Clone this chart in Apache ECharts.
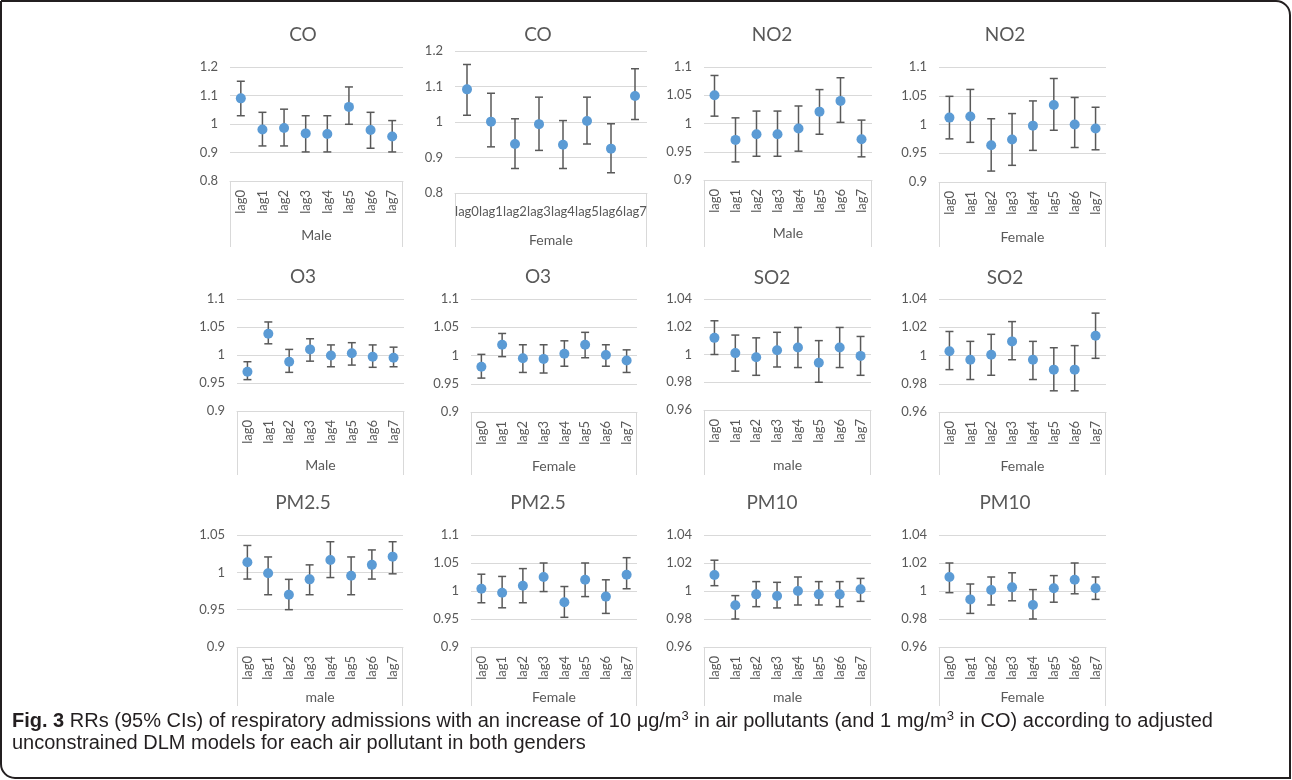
<!DOCTYPE html>
<html>
<head>
<meta charset="utf-8">
<style>
  html, body { margin: 0; padding: 0; background: #fff; }
  #chart { width: 1292px; height: 780px; }
</style>
<script src="https://cdn.jsdelivr.net/npm/echarts@6.0.0/dist/echarts.min.js"></script>
</head>
<body>
<div id="chart"></div>
<script>
// lags on the x axis
var lags = ['lag0', 'lag1', 'lag2', 'lag3', 'lag4', 'lag5', 'lag6', 'lag7']

// RR, lower and upper 95% CI per pollutant / gender
var coMaleRR = [1.09, 0.981, 0.986, 0.967, 0.965, 1.06, 0.979, 0.956]
var coMaleLo = [1.029, 0.923, 0.923, 0.902, 0.902, 0.999, 0.915, 0.902]
var coMaleHi = [1.15, 1.041, 1.052, 1.029, 1.029, 1.13, 1.041, 1.012]

var coFemaleRR = [1.092, 1.001, 0.938, 0.994, 0.936, 1.003, 0.925, 1.073]
var coFemaleLo = [1.019, 0.93, 0.869, 0.92, 0.869, 0.938, 0.857, 1.007]
var coFemaleHi = [1.162, 1.081, 1.009, 1.07, 1.004, 1.07, 0.995, 1.15]

var no2MaleRR = [1.05, 0.971, 0.981, 0.981, 0.991, 1.021, 1.04, 0.972]
var no2MaleLo = [1.013, 0.932, 0.942, 0.942, 0.951, 0.981, 1.002, 0.941]
var no2MaleHi = [1.085, 1.01, 1.022, 1.022, 1.031, 1.06, 1.081, 1.006]

var no2FemaleRR = [1.012, 1.014, 0.964, 0.974, 0.998, 1.034, 1.0, 0.993]
var no2FemaleLo = [0.975, 0.969, 0.919, 0.929, 0.955, 0.99, 0.96, 0.956]
var no2FemaleHi = [1.049, 1.061, 1.01, 1.019, 1.041, 1.08, 1.047, 1.03]

var o3MaleRR = [0.97, 1.038, 0.988, 1.01, 0.999, 1.003, 0.997, 0.995]
var o3MaleLo = [0.956, 1.02, 0.969, 0.989, 0.979, 0.982, 0.978, 0.979]
var o3MaleHi = [0.988, 1.059, 1.01, 1.029, 1.018, 1.022, 1.018, 1.014]

var o3FemaleRR = [0.98, 1.019, 0.995, 0.994, 1.003, 1.019, 1.001, 0.991]
var o3FemaleLo = [0.96, 0.998, 0.97, 0.969, 0.981, 0.996, 0.981, 0.97]
var o3FemaleHi = [1.002, 1.039, 1.019, 1.019, 1.026, 1.041, 1.019, 1.01]

var so2MaleRR = [1.012, 1.001, 0.998, 1.003, 1.005, 0.994, 1.005, 0.999]
var so2MaleLo = [1.0, 0.988, 0.985, 0.991, 0.9906, 0.98, 0.9906, 0.985]
var so2MaleHi = [1.0243, 1.014, 1.012, 1.016, 1.0195, 1.01, 1.0195, 1.013]

var so2FemaleRR = [1.003, 0.997, 1.0005, 1.01, 0.997, 0.99, 0.99, 1.014]
var so2FemaleLo = [0.99, 0.983, 0.986, 0.997, 0.983, 0.975, 0.975, 0.998]
var so2FemaleHi = [1.017, 1.01, 1.015, 1.024, 1.01, 1.0055, 1.007, 1.03]

var pm25MaleRR = [1.0135, 0.9987, 0.97, 0.9906, 1.0166, 0.9955, 1.01, 1.021]
var pm25MaleLo = [0.991, 0.97, 0.95, 0.97, 0.993, 0.97, 0.991, 0.998]
var pm25MaleHi = [1.036, 1.0206, 0.9906, 1.01, 1.041, 1.0206, 1.03, 1.041]

var pm25FemaleRR = [1.004, 0.997, 1.0095, 1.025, 0.98, 1.02, 0.99, 1.029]
var pm25FemaleLo = [0.979, 0.97, 0.979, 0.999, 0.953, 0.99, 0.96, 1.004]
var pm25FemaleHi = [1.03, 1.026, 1.04, 1.05, 1.008, 1.05, 1.02, 1.0595]

var pm10MaleRR = [1.0114, 0.9898, 0.9976, 0.9964, 1.0, 0.9976, 0.9976, 1.0012]
var pm10MaleLo = [1.0038, 0.98, 0.9888, 0.9879, 0.99, 0.99, 0.9888, 0.9926]
var pm10MaleHi = [1.022, 0.9967, 1.0067, 1.0062, 1.01, 1.0067, 1.0067, 1.009]

var pm10FemaleRR = [1.01, 0.994, 1.0007, 1.0026, 0.99, 1.002, 1.008, 1.002]
var pm10FemaleLo = [0.9988, 0.984, 0.99, 0.993, 0.98, 0.992, 0.998, 0.994]
var pm10FemaleHi = [1.02, 1.005, 1.01, 1.013, 1.001, 1.011, 1.02, 1.01]

// layout of the 12 small panels (grid = plot area in px)
var panels = [
  { title: 'CO', group: 'Male', rr: coMaleRR, lo: coMaleLo, hi: coMaleHi, min: 0.8, max: 1.2, step: 0.1, grid: [230, 67, 173, 114], rot: 90, gap: 47, boxBottom: 247, tx: 303, ty: 35 },
  { title: 'CO', group: 'Female', rr: coFemaleRR, lo: coFemaleLo, hi: coFemaleHi, min: 0.8, max: 1.2, step: 0.1, grid: [455, 51, 192, 142], rot: 0, gap: 40, boxBottom: 247, tx: 538, ty: 35 },
  { title: 'NO2', group: 'Male', rr: no2MaleRR, lo: no2MaleLo, hi: no2MaleHi, min: 0.9, max: 1.1, step: 0.05, grid: [704, 67, 168, 113], rot: 90, gap: 46, boxBottom: 247, tx: 772, ty: 35 },
  { title: 'NO2', group: 'Female', rr: no2FemaleRR, lo: no2FemaleLo, hi: no2FemaleHi, min: 0.9, max: 1.1, step: 0.05, grid: [939, 67, 167, 115], rot: 90, gap: 48, boxBottom: 247, tx: 1005, ty: 35 },

  { title: 'O3', group: 'Male', rr: o3MaleRR, lo: o3MaleLo, hi: o3MaleHi, min: 0.9, max: 1.1, step: 0.05, grid: [237, 299, 167, 112], rot: 90, gap: 47, boxBottom: 475, tx: 303, ty: 277 },
  { title: 'O3', group: 'Female', rr: o3FemaleRR, lo: o3FemaleLo, hi: o3FemaleHi, min: 0.9, max: 1.1, step: 0.05, grid: [471, 299, 166, 113], rot: 90, gap: 47, boxBottom: 475, tx: 538, ty: 277 },
  { title: 'SO2', group: 'male', rr: so2MaleRR, lo: so2MaleLo, hi: so2MaleHi, min: 0.96, max: 1.04, step: 0.02, grid: [704, 299, 167, 111], rot: 90, gap: 48, boxBottom: 475, tx: 772, ty: 278 },
  { title: 'SO2', group: 'Female', rr: so2FemaleRR, lo: so2FemaleLo, hi: so2FemaleHi, min: 0.96, max: 1.04, step: 0.02, grid: [939, 299, 167, 113], rot: 90, gap: 47, boxBottom: 475, tx: 1005, ty: 278 },

  { title: 'PM2.5', group: 'male', rr: pm25MaleRR, lo: pm25MaleLo, hi: pm25MaleHi, min: 0.9, max: 1.05, step: 0.05, grid: [237, 535, 166, 112], rot: 90, gap: 43, boxBottom: 706, tx: 303, ty: 503 },
  { title: 'PM2.5', group: 'Female', rr: pm25FemaleRR, lo: pm25FemaleLo, hi: pm25FemaleHi, min: 0.9, max: 1.1, step: 0.05, grid: [471, 535, 166, 112], rot: 90, gap: 43, boxBottom: 706, tx: 538, ty: 503 },
  { title: 'PM10', group: 'male', rr: pm10MaleRR, lo: pm10MaleLo, hi: pm10MaleHi, min: 0.96, max: 1.04, step: 0.02, grid: [704, 535, 167, 112], rot: 90, gap: 43, boxBottom: 706, tx: 772, ty: 503 },
  { title: 'PM10', group: 'Female', rr: pm10FemaleRR, lo: pm10FemaleLo, hi: pm10FemaleHi, min: 0.96, max: 1.04, step: 0.02, grid: [939, 535, 167, 112], rot: 90, gap: 43, boxBottom: 706, tx: 1005, ty: 503 },
]

var FONT = 'Lato'
var TEXT = '#595959'
var LINE = '#d9d9d9'

function errorBar(params, api) {
  var x = api.value(0)
  var low = api.coord([x, api.value(1)])
  var high = api.coord([x, api.value(2)])
  var hw = 4
  var style = { stroke: '#595959', lineWidth: 1.5 }
  return {
    type: 'group',
    children: [
      { type: 'line', shape: { x1: low[0], y1: low[1], x2: high[0], y2: high[1] }, style: style },
      { type: 'line', shape: { x1: high[0] - hw, y1: high[1], x2: high[0] + hw, y2: high[1] }, style: style },
      { type: 'line', shape: { x1: low[0] - hw, y1: low[1], x2: low[0] + hw, y2: low[1] }, style: style },
    ],
  }
}

var grids = [], xAxes = [], yAxes = [], series = [], graphics = []

panels.forEach(function (p, i) {
  var g = p.grid
  grids.push({ left: g[0], top: g[1], width: g[2], height: g[3], outerBoundsMode: 'none' })
  xAxes.push({
    type: 'category',
    gridIndex: i,
    data: lags,
    name: p.group,
    nameLocation: 'middle',
    nameGap: p.gap,
    nameMoveOverlap: false,
    nameTextStyle: { color: TEXT, fontFamily: FONT, fontSize: 14 },
    axisLine: { show: true, lineStyle: { color: LINE, width: 1 } },
    axisTick: { show: false },
    axisLabel: { interval: 0, rotate: p.rot, margin: p.rot ? 9 : 12, hideOverlap: false, color: TEXT, fontFamily: FONT, fontSize: 13 },
    splitLine: { show: false },
  })
  yAxes.push({
    type: 'value',
    gridIndex: i,
    min: p.min,
    max: p.max,
    interval: p.step,
    axisLine: { show: false },
    axisTick: { show: false },
    axisLabel: {
      margin: 12,
      color: TEXT,
      fontFamily: FONT,
      fontSize: 13,
      formatter: function (v) { return String(+v.toFixed(3)) },
    },
    splitLine: { lineStyle: { color: LINE, width: 1 } },
  })
  series.push({
    type: 'custom',
    xAxisIndex: i,
    yAxisIndex: i,
    renderItem: errorBar,
    encode: { x: 0, y: [1, 2] },
    data: lags.map(function (l, k) { return [k, p.lo[k], p.hi[k]] }),
    z: 2,
    silent: true,
  })
  series.push({
    type: 'scatter',
    xAxisIndex: i,
    yAxisIndex: i,
    data: p.rr,
    symbolSize: 10,
    itemStyle: { color: '#5b9bd5', opacity: 1 },
    z: 3,
    silent: true,
  })
  // panel title
  graphics.push({
    type: 'text', x: p.tx, y: p.ty,
    style: { text: p.title, fill: TEXT, fontFamily: FONT, fontSize: 19, textAlign: 'center', textVerticalAlign: 'middle' },
  })
  // sides of the category box
  var bottom = g[1] + g[3]
  graphics.push({ type: 'line', shape: { x1: g[0] + 0.5, y1: bottom, x2: g[0] + 0.5, y2: p.boxBottom }, style: { stroke: LINE, lineWidth: 1 } })
  graphics.push({ type: 'line', shape: { x1: g[0] + g[2] - 0.5, y1: bottom, x2: g[0] + g[2] - 0.5, y2: p.boxBottom }, style: { stroke: LINE, lineWidth: 1 } })
})

// figure frame
graphics.push({
  type: 'rect',
  shape: { x: 1, y: 1, width: 1289, height: 777, r: [0, 14, 0, 14] },
  style: { fill: 'none', stroke: '#231f20', lineWidth: 2 },
})

// caption
var CAP = 20
var capRich = {
  b: { fontWeight: 'bold', fontSize: CAP, fontFamily: 'Liberation Sans', fill: '#231f20' },
  s: { fontSize: 13, fontFamily: 'Liberation Sans', fill: '#231f20', verticalAlign: 'top', lineHeight: 22 },
}
graphics.push({
  type: 'text', x: 12, y: 721,
  style: {
    text: '{b|Fig. 3} RRs (95% CIs) of respiratory admissions with an increase of 10 μg/m{s|3} in air pollutants (and 1 mg/m{s|3} in CO) according to adjusted',
    rich: capRich, fontSize: CAP, fontFamily: 'Liberation Sans', fill: '#231f20', lineHeight: 22, textVerticalAlign: 'middle',
  },
})
graphics.push({
  type: 'text', x: 12, y: 743,
  style: {
    text: 'unconstrained DLM models for each air pollutant in both genders',
    fontSize: CAP, fontFamily: 'Liberation Sans', fill: '#231f20', textVerticalAlign: 'middle',
  },
})

var chart = echarts.init(document.getElementById('chart'))
chart.setOption({
  backgroundColor: '#fff',
  animation: false,
  grid: grids,
  xAxis: xAxes,
  yAxis: yAxes,
  series: series,
  graphic: graphics,
})

window.addEventListener('resize', function () {
  chart.resize()
})
</script>
</body>
</html>
